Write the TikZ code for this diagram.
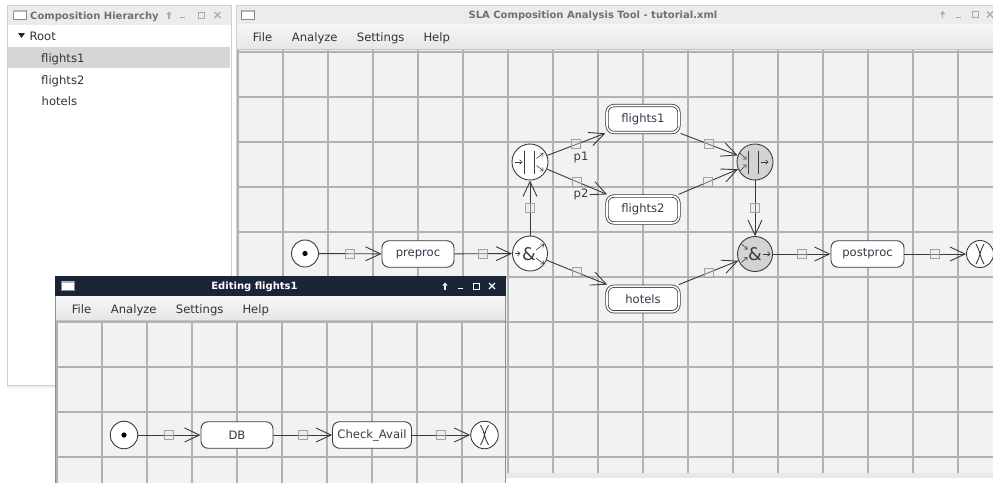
\documentclass[tikz,border=0pt]{standalone}
\usepackage{fontspec}
\setmainfont{DejaVu Sans}
\usetikzlibrary{arrows.meta}
\definecolor{canvasbg}{HTML}{F2F2F2}
\definecolor{gridc}{HTML}{B2B2B2}
\definecolor{linec}{HTML}{3A3A3A}
\definecolor{nodec}{HTML}{3C3C3C}
\definecolor{textc}{HTML}{323A48}
\definecolor{sqc}{HTML}{A2A2A2}
\definecolor{sqfill}{HTML}{E8E8E8}
\definecolor{titlec}{HTML}{ECECEC}
\definecolor{ttext}{HTML}{707070}
\definecolor{icoc}{HTML}{ABABAB}
\definecolor{bordc}{HTML}{CFCFCF}
\definecolor{selc}{HTML}{D6D6D6}
\definecolor{darkt}{HTML}{1C2537}
\definecolor{joinc}{HTML}{D3D3D3}
\definecolor{menut}{HTML}{333333}
\definecolor{menutop}{HTML}{F6F6F6}
\definecolor{menubot}{HTML}{E6E6E6}
\definecolor{iconbd}{HTML}{8A8A8A}
\definecolor{icontop}{HTML}{A9B8C8}
\definecolor{winbd}{HTML}{8E8E8E}
\newcommand\wicons[6]{%
  \draw[#1, line width=1.1pt, -{Triangle[length=3.2pt,width=5pt]}] (#3,#2+3.5) -- (#3,#2-3.5);
  \draw[#1, line width=1.2pt] (#4-2.5,#2+2.8) -- (#4+2.5,#2+2.8);
  \draw[#1, line width=1pt] (#5-3,#2-3) rectangle (#5+3,#2+3);
  \draw[#1, line width=1.1pt] (#6-3,#2-3) -- (#6+3,#2+3) (#6-3,#2+3) -- (#6+3,#2-3);
}
\newcommand\wicon[2]{%
  \draw[draw=iconbd, fill=white, line width=0.6pt] (#1,#2) rectangle (#1+13,#2+9);
  \fill[icontop] (#1+0.4,#2+0.4) rectangle (#1+12.6,#2+2.4);
}
\begin{document}
\begin{tikzpicture}[x=1pt,y=-1pt,
  nfont/.style={font=\fontsize{11.6}{13}\selectfont},
  gridl/.style={draw=gridc, line width=1.2pt},
  conn/.style={draw=linec, line width=0.9pt, -{Straight Barb[length=15pt,width=14pt]}},
  sq/.style={rectangle, draw=sqc, fill=sqfill, fill opacity=0.35, minimum size=9pt, inner sep=0pt, line width=0.9pt},
  task/.style={rectangle, draw=nodec, fill=white, rounded corners=7pt, minimum width=72pt, minimum height=26.5pt, inner sep=0pt, line width=0.9pt, nfont, text=textc},
  comp/.style={task, double=white, double distance=1.6pt, line width=0.8pt, outer sep=1.6pt, minimum height=27pt},
  circ/.style={circle, draw=nodec, fill=white, inner sep=0pt, line width=0.9pt},
  gate/.style={circ, minimum size=35pt},
  jgate/.style={gate, fill=joinc},
  bar/.style={draw=nodec, line width=1.9pt},
  sarr/.style={draw=nodec, line width=0.6pt, -{Straight Barb[length=2.5pt,width=4.5pt]}},
  amp/.style={font=\fontsize{17.5}{17.5}\selectfont, text=textc, inner sep=0pt},
  lbl/.style={nfont, text=textc, inner sep=0pt},
  ttl/.style={font=\fontsize{10}{12}\selectfont\bfseries, text=ttext, inner sep=0pt, anchor=base},
  menu/.style={nfont, text=menut, inner sep=0pt, anchor=base west},
  tree/.style={nfont, text=menut, inner sep=0pt, anchor=base west},
]
\fill[white] (0,0) rectangle (993,483);
\useasboundingbox (0,0) rectangle (993,483);

% ---------------- left panel
\fill[gray!12] (7,385) rectangle (231,388);
\fill[white] (7,5) rectangle (231,385);
\fill[titlec] (7,5) rectangle (231,25);
\draw[bordc] (7,5) rectangle (231,385);
\wicon{13}{10}
\node[ttl, anchor=base west] (lt) at (30,19) {Composition Hierarchy};
\wicons{icoc}{15}{169}{182}{201}{217.5}
\fill[black!85] (18,33) -- (25,33) -- (21.5,38) -- cycle;
\node[tree] (troot) at (29.3,40.3) {Root};
\fill[selc] (8,47) rectangle (230,68);
\node[tree] (tf1) at (41,62.5) {flights1};
\node[tree] (tf2) at (41,84) {flights2};
\node[tree] (tho) at (41.5,105) {hotels};

% ---------------- main window
\fill[titlec] (236,5) rectangle (993,24);
\shade[top color=menutop, bottom color=menubot] (236,24) rectangle (993,50);
\draw[bordc] (236,5.5) -- (993,5.5);
\draw[bordc] (236.5,5) -- (236.5,483);
\wicon{241.7}{10}
\node[ttl] (mt) at (593,18.5) {SLA Composition Analysis Tool - tutorial.xml};
\wicons{icoc}{14.5}{942.7}{958}{975}{990}
\node[menu] (m1) at (252.7,41.7) {File};
\node[menu] (m2) at (291.7,41.7) {Analyze};
\node[menu] (m3) at (356.7,41.7) {Settings};
\node[menu] (m4) at (423.3,41.7) {Help};
\draw[gridc!80] (237,49.5) -- (993,49.5);
\fill[canvasbg] (237,50) rectangle (993,473);
\foreach \x in {238,283,...,958} \draw[gridl] (\x,50) -- (\x,473);
\foreach \y in {52,97,...,457} \draw[gridl] (237,\y) -- (993,\y);
\fill[gray!18] (237,473) rectangle (993,478);

% nodes main
\node[circ, minimum size=27pt] (st) at (305,253.5) {};
\fill[black] (st.center) circle[radius=2.6pt];
\node[task] (pre) at (418,254) {preproc};
\node[gate] (as) at (530,253.5) {};
\node[gate, minimum size=36pt] (ps) at (530,162) {};
\node[comp] (f1) at (643,119) {flights1};
\node[comp] (f2) at (643,209.5) {flights2};
\node[comp, minimum height=25.6pt] (ho) at (643,299) {hotels};
\node[jgate, minimum size=36pt] (pj) at (755,162) {};
\node[jgate] (aj) at (755,254) {};
\node[task, minimum width=73pt] (post) at (867.5,254) {postproc};
\node[circ, minimum size=27pt] (en) at (980,254) {};
\draw[nodec, line width=0.9pt, shift={(en.center)}] (-4,-10) .. controls (0,-4) and (0,4) .. (4,10) (4,-10) .. controls (0,-4) and (0,4) .. (-4,10);

% gate symbols
\begin{scope}[shift={(ps.center)}]
  \draw[bar] (-5.5,-11.5) -- (-5.5,11.5) (4.5,-11.5) -- (4.5,11.5);
  \draw[sarr] (-15,0) -- (-7.5,0);
  \draw[sarr] (6.5,-3.5) -- (13.5,-9);
  \draw[sarr] (6.5,3.5) -- (13.5,9);
\end{scope}
\begin{scope}[shift={(pj.center)}]
  \draw[bar] (-6.5,-11.5) -- (-6.5,11.5) (3.5,-11.5) -- (3.5,11.5);
  \draw[sarr] (-15,-9) -- (-8.5,-2.5);
  \draw[sarr] (-15,9) -- (-8.5,2.5);
  \draw[sarr] (5.5,0) -- (13.5,0);
\end{scope}
\node[amp] (asamp) at ([xshift=-1pt,yshift=-0.5pt]as.center) {\&};
\begin{scope}[shift={(as.center)}]
  \draw[sarr] (-15,0) -- (-9.5,0);
  \draw[sarr] (6,-3.5) -- (14,-9.5);
  \draw[sarr] (6,4.5) -- (14,10.5);
\end{scope}
\node[amp] (ajamp) at ([yshift=-0.5pt]aj.center) {\&};
\begin{scope}[shift={(aj.center)}]
  \draw[sarr] (-13.5,-10) -- (-7.5,-4.5);
  \draw[sarr] (-13.5,8.5) -- (-7.5,3);
  \draw[sarr] (7.5,0) -- (15.5,0);
\end{scope}

% connectors main
\draw[conn] (st) -- node[sq] (s1) {} (pre);
\draw[conn] (pre) -- node[sq] (s2) {} (as);
\draw[conn] (as) -- node[sq] (s3) {} (ps);
\draw[conn] (ps) -- node[sq] (q1) {} (f1);
\draw[conn] (ps) -- node[sq] (q2) {} (f2);
\draw[conn] (f1) -- node[sq] (s4) {} (pj);
\draw[conn] (f2) -- node[sq] (s5) {} (pj);
\draw[conn] (as) -- node[sq] (s6) {} (ho);
\draw[conn] (ho) -- node[sq] (s7) {} (aj);
\draw[conn] (pj) -- node[sq] (s8) {} (aj);
\draw[conn] (aj) -- node[sq] (s9) {} (post);
\draw[conn] (post) -- node[sq] (s10) {} (en);
\node[lbl, anchor=base] (p1) at (581,160.5) {p1};
\node[lbl, anchor=base] (p2) at (581,197.5) {p2};

% ---------------- editing window
\fill[darkt] (55,276) rectangle (506,296);
\shade[top color=menutop, bottom color=menubot] (55,296) rectangle (506,320);
\draw[gridc!80] (55,320.5) -- (506,320.5);
\wicon{61.7}{281}
\node[ttl, text=white] (et) at (254.5,289.5) {Editing flights1};
\wicons{white}{286}{445}{460.8}{476}{492}
\node[menu] (e1) at (71.7,313) {File};
\node[menu] (e2) at (110.7,313) {Analyze};
\node[menu] (e3) at (175.7,313) {Settings};
\node[menu] (e4) at (242.3,313) {Help};
\fill[canvasbg] (56,321) rectangle (505,483);
\foreach \x in {57,102,...,462} \draw[gridl] (\x,321) -- (\x,483);
\foreach \y in {322,367,412,457} \draw[gridl] (56,\y) -- (505,\y);
\draw[winbd, line width=1.5pt] (55.5,296) -- (55.5,483) (505.5,296) -- (505.5,483);

\node[circ, minimum size=27.5pt] (es) at (124,435) {};
\fill[black] (es.center) circle[radius=2.6pt];
\node[task] (db) at (237,435) {DB};
\node[task, minimum width=79pt] (ca) at (372,435) {Check\_Avail};
\node[circ, minimum size=27.5pt] (ee) at (484.5,435) {};
\draw[nodec, line width=0.9pt, shift={(ee.center)}] (-4,-10) .. controls (0,-4) and (0,4) .. (4,10) (4,-10) .. controls (0,-4) and (0,4) .. (-4,10);
\draw[conn] (es) -- node[sq] (t1) {} (db);
\draw[conn] (db) -- node[sq] (t2) {} (ca);
\draw[conn] (ca) -- node[sq] (t3) {} (ee);
\end{tikzpicture}
\end{document}
